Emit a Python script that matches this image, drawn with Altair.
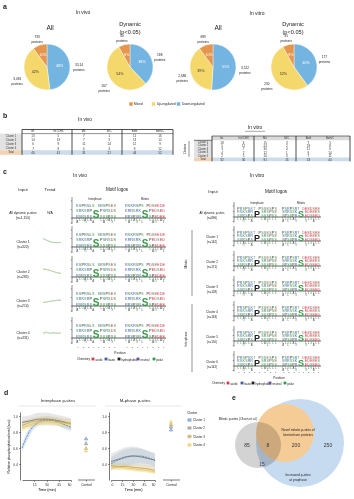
import altair as alt
import pandas as pd

W, H = 354, 499
FONT = "Liberation Sans"
ONE = pd.DataFrame({"k": [0]})
L = []

# ---------------- data ----------------
PIE_CATS = ["Down-regulated", "Up-regulated", "Mixed"]
PIE_COLORS = ["#74b4e0", "#f5d86c", "#e5964c"]
PIE_VIVO_ALL = [3514, 3081, 733]
PIE_VIVO_DYN = [188, 267, 40]
PIE_VITRO_ALL = [3512, 2686, 689]
PIE_VITRO_DYN = [177, 230, 35]

TB_COLS = ["Int.", "Int./CHX", "Mit.", "M/C", "Both", "Both/C"]
TB_VIVO_ROWS = ["Cluster 1", "Cluster 2", "Cluster 3", "Cluster 4", "Total"]
TB_VIVO_VALS = [[13, 5, 7, 1, 11, 16], [14, 19, 7, 3, 13, 15], [6, 9, 11, 14, 12, 9],
                [7, 8, 6, 3, 8, 12], [40, 41, 31, 21, 44, 52]]
TB_VITRO_ROWS = ["Cluster 1", "Cluster 2", "Cluster 3", "Cluster 4", "Cluster 5", "Total"]
TB_VITRO_VALS = [[18, 4, 15, 3, 7, 5], [5, 12, 24, 2, 19, 8], [3, 7, 30, 4, 11, 6],
                 [4, 2, 12, 1, 9, 14], [2, 5, 10, 3, 7, 11], [32, 30, 91, 13, 53, 44]]

LV_LABELS = ["All dynamic p-sites\n(n=1,150)", "Cluster 1\n(n=320)", "Cluster 2\n(n=285)",
             "Cluster 3\n(n=214)", "Cluster 4\n(n=331)"]
RV_LABELS = ["All dynamic p-sites\n(n=896)", "Cluster 1\n(n=142)", "Cluster 2\n(n=171)",
             "Cluster 3\n(n=128)", "Cluster 4\n(n=163)", "Cluster 5\n(n=150)", "Cluster 6\n(n=142)"]

TREND_T = [0, 1, 2, 3, 4, 5]
TREND = [
    ([0.95, 0.75, 0.55, 0.45, 0.40, 0.42], [0.90, 0.70, 0.52, 0.44, 0.42, 0.45]),
    ([0.90, 0.85, 0.70, 0.52, 0.38, 0.30], [0.85, 0.80, 0.68, 0.55, 0.42, 0.35]),
    ([0.30, 0.36, 0.45, 0.55, 0.60, 0.66], [0.35, 0.40, 0.47, 0.52, 0.58, 0.60]),
    ([0.50, 0.62, 0.42, 0.58, 0.45, 0.52], [0.45, 0.55, 0.48, 0.50, 0.50, 0.47]),
]

AA_CLASSES = ["acidic", "basic", "hydrophobic", "neutral", "polar"]
AA_MEMBERS = ["DE", "KRH", "AVLIPWFM", "QN", "GSTYC"]
AA_CLASS_COLORS = ["#d23b4b", "#3e5ca6", "#1f1f1f", "#6a4a9a", "#3c994b"]

# logo letters: rows above the baseline (nearest first) and rows below
VIVO_INT = (["RSRSRS...SSSPSS", "SRKSRP...PSRSDS", "KSPRSLS.SRSPSES"],
            ["LLGALA...LLGALL", "A..G..A...A..G."])
VIVO_MIT = (["RRSPSR...SPEDEE", "KRRSRK...PEDSED", "RSKRSPS.PDSEEDE"],
            ["LGLALL...LGLLAG", ".A..G.L...AG..L"])
VITRO_INT = (["SSRSPS...SSSPSS", "RSKSRR...SRSPSE", "PRSPSKT.PSSESPS"],
             ["LLALLG...LAGLLL", "..G..A.....L..."])
VITRO_MIT = (["SPSSPR...EDSEED", "SRRSSK...EDEEES", "PSRPSRT.DEEDSEE"],
             ["LLGLAL...LLGLLL", "A.L..G...G..A.."])
VIVO_BIG = [("S", 0, 10)]
VITRO_BIG_INT = [("P", 0, 9)]
VITRO_BIG_MIT = [("S", 0, 9)]
LOGO_TICKS = [-7, -5, -3, -1, 1, 3, 5, 7]

D_TIMES = [0, 10, 20, 30, 40, 50, 60]
D_CLUSTERS = ["Cluster 1", "Cluster 2", "Cluster 3", "Cluster 4"]
D_LINE_COLORS = ["#4a78b5", "#6b6b6b", "#b8995a", "#e3c64e"]
D_BAND_COLORS = ["#a9c6e8", "#c9c9c9", "#ddc99a", "#f3e29e"]
INT_MEAN = [[0.60, 0.82, 0.92, 0.95, 0.94, 0.90, 0.86],
            [0.92, 0.94, 0.96, 0.96, 0.95, 0.93, 0.90],
            [0.88, 0.92, 0.94, 0.95, 0.94, 0.92, 0.91],
            [0.85, 0.89, 0.92, 0.93, 0.92, 0.91, 0.90]]
INT_HALF = [[0.05, 0.05, 0.04, 0.04, 0.04, 0.05, 0.05],
            [0.07, 0.07, 0.08, 0.08, 0.07, 0.07, 0.07],
            [0.05, 0.05, 0.05, 0.05, 0.05, 0.05, 0.05],
            [0.04, 0.04, 0.04, 0.04, 0.04, 0.04, 0.04]]
MPH_MEAN = [[0.40, 0.45, 0.48, 0.50, 0.50, 0.48, 0.44],
            [0.43, 0.46, 0.49, 0.50, 0.49, 0.47, 0.45],
            [0.38, 0.37, 0.37, 0.36, 0.35, 0.34, 0.32],
            [0.36, 0.36, 0.35, 0.34, 0.33, 0.32, 0.30]]
MPH_HALF = [[0.08, 0.09, 0.10, 0.10, 0.09, 0.08, 0.08],
            [0.10, 0.11, 0.12, 0.12, 0.11, 0.10, 0.09],
            [0.04, 0.04, 0.04, 0.04, 0.04, 0.04, 0.04],
            [0.03, 0.03, 0.03, 0.03, 0.03, 0.03, 0.03]]
INT_CTRL = [0.72, 0.66, 0.60, 0.57]
MPH_CTRL = [0.83, 0.87, 0.90, 0.93]

VENN_COUNTS = ["85", "8", "200", "250", "15"]


# ---------------- helpers ----------------
def text(s, x, y, size=4.0, color="#222222", align="center", baseline="middle",
         weight="normal", angle=None, style="normal"):
    kw = dict(fontSize=size, color=color, align=align, baseline=baseline,
              fontWeight=weight, font=FONT, lineBreak="\n", fontStyle=style)
    if angle is not None:
        kw["angle"] = angle
    L.append(alt.Chart(ONE).mark_text(**kw).encode(
        x=alt.value(x), y=alt.value(y), text=alt.value(s)))


def rule(x1, y1, x2, y2, color="#222222", w=0.6):
    L.append(alt.Chart(ONE).mark_rule(color=color, strokeWidth=w).encode(
        x=alt.value(x1), y=alt.value(y1), x2=alt.value(x2), y2=alt.value(y2)))


def rect(x1, y1, x2, y2, fill):
    L.append(alt.Chart(ONE).mark_rect(color=fill).encode(
        x=alt.value(x1), y=alt.value(y1), x2=alt.value(x2), y2=alt.value(y2)))


def square(x, y, color, size=9):
    L.append(alt.Chart(ONE).mark_square(color=color, size=size, opacity=1).encode(
        x=alt.value(x), y=alt.value(y)))


def circle(cx, cy, r, color, blend=None):
    kw = dict(size=(2 * r) ** 2, color=color, opacity=1)
    if blend:
        kw["blend"] = blend
    L.append(alt.Chart(ONE).mark_circle(**kw).encode(x=alt.value(cx), y=alt.value(cy)))


def pie(counts, cx, cy, r=23):
    df = pd.DataFrame({"cat": PIE_CATS, "n": counts, "o": [0, 1, 2]})
    base = alt.Chart(df).transform_joinaggregate(total="sum(n)").transform_calculate(
        pct="format(datum.n / datum.total, '.0%')",
        lab="format(datum.n, ',') + '\\nproteins'")
    enc = dict(theta=alt.Theta("n:Q", stack=True), order=alt.Order("o:Q"),
               x=alt.value(cx), y=alt.value(cy))
    L.append(base.mark_arc(outerRadius=r, stroke="white", strokeWidth=0.4).encode(
        color=alt.Color("cat:N", scale=alt.Scale(domain=PIE_CATS, range=PIE_COLORS), legend=None),
        **enc))
    L.append(base.mark_text(radius=r * 0.55, fontSize=3.6, font=FONT).encode(
        text="pct:N",
        color=alt.condition("datum.o == 1", alt.value("#333333"), alt.value("#ffffff")), **enc))
    L.append(base.mark_text(radius=r + 9, fontSize=3.2, font=FONT, lineBreak="\n",
                            color="#222222").encode(text="lab:N", **enc))


AA_DOMAIN = [a for m in AA_MEMBERS for a in m]
AA_RANGE = [c for m, c in zip(AA_MEMBERS, AA_CLASS_COLORS) for _ in m]


def aa_color():
    return alt.Color("aa:N", scale=alt.Scale(domain=AA_DOMAIN, range=AA_RANGE), legend=None)


def logo(tpl, big, x0, x1, base, ha, hb, fa, fb, ticks_y=None):
    above, below = tpl
    xs = alt.X("pos:Q", scale=alt.Scale(domain=[-7.5, 7.5], range=[x0, x1], nice=False, zero=False),
               axis=None)
    ra = [(i - 7, r, ch) for r, s in enumerate(above) for i, ch in enumerate(s) if ch != "."]
    rb = [(i - 7, r, ch) for r, s in enumerate(below) for i, ch in enumerate(s) if ch != "."]
    da = pd.DataFrame(ra, columns=["pos", "row", "aa"])
    db = pd.DataFrame(rb, columns=["pos", "row", "aa"])
    L.append(alt.Chart(da).mark_text(fontSize=fa, font=FONT, baseline="alphabetic").encode(
        x=xs, y=alt.Y("row:Q", scale=alt.Scale(domain=[0, 3], range=[base, base - ha],
                                               nice=False, zero=False), axis=None),
        text="aa:N", color=aa_color()))
    L.append(alt.Chart(db).mark_text(fontSize=fb, font=FONT, baseline="top", opacity=0.8).encode(
        x=xs, y=alt.Y("row:Q", scale=alt.Scale(domain=[0, 2], range=[base + 0.7, base + 0.7 + hb],
                                               nice=False, zero=False), axis=None),
        text="aa:N", color=aa_color()))
    for aa, pos, fs in big:
        L.append(alt.Chart(pd.DataFrame({"pos": [pos], "aa": [aa]})).mark_text(
            fontSize=fs, font=FONT, fontWeight="bold", baseline="alphabetic").encode(
            x=xs, y=alt.value(base), text="aa:N", color=aa_color()))
    if ticks_y is not None:
        L.append(alt.Chart(pd.DataFrame({"pos": LOGO_TICKS})).mark_text(
            fontSize=2.3, font=FONT, color="#444444").encode(
            x=xs, y=alt.value(ticks_y), text="pos:Q"))


def logo_axes(xa, xend, base, ha, hb):
    rule(xa, base - ha - 4, xa, base + hb + 1, w=0.5)
    rule(xa, base, xend, base, w=0.7)
    for yy in (base - ha, base - ha / 2, base, base + hb):
        rule(xa - 1.3, yy, xa, yy, w=0.4)


def table(cols, rows, vals, cx0, cx1, ry0, ry1, hy, lab_x, fs=3.0):
    recs = [(r, c, v) for r, rv in zip(rows, vals) for c, v in zip(cols, rv)]
    df = pd.DataFrame(recs, columns=["r", "c", "v"])
    xs = alt.X("c:N", scale=alt.Scale(type="point", domain=cols, range=[cx0, cx1], padding=0),
               axis=None)
    ys = alt.Y("r:N", scale=alt.Scale(type="point", domain=rows, range=[ry0, ry1], padding=0),
               axis=None)
    L.append(alt.Chart(df).mark_text(fontSize=fs, font=FONT, color="#333333").encode(
        x=xs, y=ys, text="v:Q"))
    L.append(alt.Chart(pd.DataFrame({"c": cols})).mark_text(fontSize=fs - 0.3, font=FONT,
                                                            color="#333333").encode(
        x=xs, y=alt.value(hy), text="c:N"))
    L.append(alt.Chart(pd.DataFrame({"r": rows})).mark_text(fontSize=fs - 0.4, font=FONT,
                                                            color="#333333").encode(
        x=alt.value(lab_x), y=ys, text="r:N"))


def dpanel(means, halves, ctrl, xr, axis_x, ctrl_x, ytitle, xticks):
    recs = []
    for c, mv, hv in zip(D_CLUSTERS, means, halves):
        for t, m, h in zip(D_TIMES, mv, hv):
            recs.append((c, t, m, h))
    df = pd.DataFrame(recs, columns=["cl", "t", "m", "h"])
    ysc = alt.Scale(domain=[0.2, 1.05], range=[480, 412], nice=False, zero=False)
    xsc = alt.Scale(domain=[0, 60], range=xr, nice=False, zero=False)
    common = dict(labelFontSize=3.4, labelFont=FONT, tickSize=1.5, tickWidth=0.5,
                  domainWidth=0.6, domainColor="#222222", tickColor="#222222", labelPadding=1,
                  grid=False, labelColor="#333333")
    xax = alt.Axis(orient="bottom", offset=480 - H, values=xticks, title="Time (min)",
                   titleFontSize=3.8, titleFont=FONT, titlePadding=2, titleFontWeight="normal",
                   **common)
    if ytitle:
        yax = alt.Axis(orient="left", offset=-axis_x, values=[0.4, 0.6, 0.8, 1.0], format=".1f",
                       title=ytitle, titleFontSize=3.4, titleFont=FONT, titlePadding=2,
                       titleFontWeight="normal", **common)
    else:
        yax = alt.Axis(orient="left", offset=-axis_x, values=[0.4, 0.6, 0.8, 1.0], format=".1f",
                       title=None, **common)
    base = alt.Chart(df).transform_calculate(lo="datum.m - datum.h", hi="datum.m + datum.h")
    band = alt.Scale(domain=D_CLUSTERS, range=D_BAND_COLORS)
    line = alt.Scale(domain=D_CLUSTERS, range=D_LINE_COLORS)
    L.append(base.mark_area(opacity=0.45, interpolate="monotone").encode(
        x=alt.X("t:Q", scale=xsc, axis=xax), y=alt.Y("lo:Q", scale=ysc, axis=yax), y2="hi:Q",
        color=alt.Color("cl:N", scale=band, legend=None)))
    L.append(base.mark_line(strokeWidth=0.8, interpolate="monotone").encode(
        x=alt.X("t:Q", scale=xsc, axis=None), y=alt.Y("m:Q", scale=ysc, axis=None),
        color=alt.Color("cl:N", scale=line, legend=None),
        strokeDash=alt.StrokeDash("cl:N", scale=alt.Scale(domain=D_CLUSTERS,
                                                          range=[[2, 1], [1, 0], [1, 0], [1, 0]]),
                                  legend=None)))
    cdf = pd.DataFrame({"cl": D_CLUSTERS, "m": ctrl})
    L.append(alt.Chart(cdf).mark_point(shape="triangle-up", size=12, filled=True, opacity=0.9,
                                       strokeWidth=0.5).encode(
        x=alt.value(ctrl_x), y=alt.Y("m:Q", scale=ysc, axis=None),
        fill=alt.Fill("cl:N", scale=band, legend=None),
        stroke=alt.Stroke("cl:N", scale=line, legend=None)))


# ---------------- panel a ----------------
text("a", 3, 3, 7, align="left", baseline="top", weight="bold")
text("In vivo", 83, 12, 5)
text("In vitro", 257, 13, 5)
text("All", 50, 28, 6.5)
text("Dynamic\n(p<0.05)", 130, 24, 5.6)
text("All", 218, 28, 6.5)
text("Dynamic\n(p<0.05)", 293, 24, 5.6)
pie(PIE_VIVO_ALL, 47, 67)
pie(PIE_VIVO_DYN, 130, 67)
pie(PIE_VITRO_ALL, 213, 67)
pie(PIE_VITRO_DYN, 294, 67)
for (cx, lx), cat, col in zip([(131, 134), (153.5, 157), (178.5, 182)],
                              [PIE_CATS[2], PIE_CATS[1], PIE_CATS[0]],
                              [PIE_COLORS[2], PIE_COLORS[1], PIE_COLORS[0]]):
    square(cx, 104, col, 12)
    text(cat, lx, 104.3, 3.2, align="left")

# ---------------- panel b ----------------
text("b", 3, 112, 7, align="left", baseline="top", weight="bold")
text("In vivo", 85, 120, 4.8)
text("In vitro", 255, 128, 4.8)
rule(245, 131.3, 265, 131.3, w=0.4)
# left table
rect(0, 133.5, 22, 150.3, "#e3e3e3")
rect(0, 150.3, 22, 154.8, "#f3d2b4")
rect(22, 150.3, 173, 154.8, "#cddbeb")
rule(22, 129.5, 173, 129.5, w=0.8)
rule(22, 133.6, 173, 133.6, w=0.5)
for xx in (22, 72, 122, 173):
    rule(xx, 129.5, xx, 154.8, w=0.8)
table(TB_COLS, TB_VIVO_ROWS, TB_VIVO_VALS, 33, 160, 135.9, 152.5, 131.6, 11)
# right table
rect(212, 136, 350, 140.3, "#dadada")
rect(194, 140.3, 212, 157.5, "#e3e3e3")
rect(194, 157.5, 212, 161.3, "#f3d2b4")
rect(212, 157.5, 350, 161.3, "#cddbeb")
rule(212, 136, 350, 136, w=0.6)
rule(194, 140.3, 212, 140.3, w=0.6)
for xx in (212, 254, 296, 350):
    rule(xx, 136, xx, 161.3, w=0.8)
rule(189, 141, 189, 157, w=0.5)
text("Clusters", 185, 149, 2.8, angle=270)
table(TB_COLS, TB_VITRO_ROWS, TB_VITRO_VALS, 222, 330, 142.3, 159.4, 138.2, 203)

# ---------------- panel c ----------------
text("c", 3, 168, 7, align="left", baseline="top", weight="bold")
text("In vivo", 80, 176, 4.8)
text("Input", 23, 190, 4.2)
text("Trend", 50, 190, 4.2)
text("Motif logos", 117, 190, 4.6)
text("Interphase", 95, 199, 2.8)
text("Mitotic", 145, 199, 2.8)

LV_BASE = [218, 247, 277, 306, 338]
for i, (lab, b) in enumerate(zip(LV_LABELS, LV_BASE)):
    text(lab, 23, b - 5, 3.3)
    logo_axes(72, 166, b, 17, 5)
    last = i == len(LV_BASE) - 1
    logo(VIVO_INT, VIVO_BIG, 76, 116, b, 17, 5, 3.8, 3.0, ticks_y=347 if last else None)
    logo(VIVO_MIT, VIVO_BIG, 125, 165, b, 17, 5, 3.8, 3.0, ticks_y=347 if last else None)
text("N/A", 50, LV_BASE[0] - 5, 3.4)
for (t1, t2), b in zip(TREND, LV_BASE[1:]):
    yc = b - 5
    for vals, col in ((t1, "#bfca7e"), (t2, "#94c7a6")):
        L.append(alt.Chart(pd.DataFrame({"t": TREND_T, "v": vals})).mark_line(
            strokeWidth=0.6, color=col).encode(
            x=alt.X("t:Q", scale=alt.Scale(domain=[0, 5], range=[43, 61], nice=False, zero=False),
                    axis=None),
            y=alt.Y("v:Q", scale=alt.Scale(domain=[0, 1], range=[yc + 4, yc - 4], nice=False,
                                           zero=False), axis=None)))
text("Position", 120, 353, 3.2)
text("Chemistry", 77, 359, 2.9, align="left")
for sx, cls, col in zip([93, 106, 119, 138, 154], AA_CLASSES, AA_CLASS_COLORS):
    square(sx, 359, col, 8)
    text(cls, sx + 2.5, 359.2, 2.9, align="left")

# right side
text("In vitro", 257, 176, 4.8)
text("Input", 213, 192, 4.2)
text("Motif logos", 276, 192, 4.6)
text("Interphase", 257, 203, 2.8)
text("Mitotic", 301, 203, 2.8)
RV_BASE = [217, 241, 266, 291, 316, 341, 366]
for i, (lab, b) in enumerate(zip(RV_LABELS, RV_BASE)):
    text(lab, 212, b - 4, 3.0)
    logo_axes(234, 321, b, 11, 4.5)
    last = i == len(RV_BASE) - 1
    logo(VITRO_INT, VITRO_BIG_INT, 237, 277, b, 11, 4.5, 3.6, 2.8, ticks_y=372 if last else None)
    logo(VITRO_MIT, VITRO_BIG_MIT, 282, 320, b, 11, 4.5, 3.6, 2.8, ticks_y=372 if last else None)
text("Mitotic", 186, 264, 3.2, angle=270)
rule(192, 230, 192, 296, w=0.5)
text("Interphase", 186, 339, 3.2, angle=270)
rule(192, 304, 192, 372, w=0.5)
text("Position", 279, 378, 3.2)
text("Chemistry", 212, 383, 2.9, align="left")
for sx, cls, col in zip([228, 242, 253, 270, 285], AA_CLASSES, AA_CLASS_COLORS):
    square(sx, 383, col, 8)
    text(cls, sx + 2.5, 383.2, 2.9, align="left")

# ---------------- panel d ----------------
text("d", 4, 389, 7, align="left", baseline="top", weight="bold")
text("Interphase p-sites", 58, 401, 4.3)
text("M-phase p-sites", 135, 401, 4.3)
rule(18, 406, 96, 406, color="#cccccc", w=0.5)
rule(105, 406, 182, 406, color="#cccccc", w=0.5)
dpanel(INT_MEAN, INT_HALF, INT_CTRL, [22, 71], 20, 86, "Relative phosphorylation level (a.u.)",
       [15, 30, 45, 60])
dpanel(MPH_MEAN, MPH_HALF, MPH_CTRL, [111, 155], 109, 171, None, [0, 15, 30, 45, 60])
for x1, x2, xc in ((78, 95, 86.5), (163, 180, 171.5)):
    rule(x1, 480, x2, 480, w=0.6)
    rule(xc, 480, xc, 481.5, w=0.5)
    text("Control", xc, 483, 3.3, baseline="top")
text("Cluster", 187, 413, 3.3, align="left")
for yy, c, bc, lc in zip([420, 428, 436.5, 445], D_CLUSTERS, D_BAND_COLORS, D_LINE_COLORS):
    square(189.5, yy, bc, 14)
    rule(187.5, yy, 191.5, yy, color=lc, w=0.6)
    text(c, 193, yy + 0.2, 3.0, align="left")

# ---------------- panel e ----------------
text("e", 232, 394, 7, align="left", baseline="top", weight="bold")
circle(300, 443, 44, "#c7dbf0")
circle(285, 433, 29, "#f6cc96")
circle(258, 445, 23, "#d3d3d3", blend="multiply")
for s, x, y, col in zip(VENN_COUNTS, [247, 268, 296, 328, 262], [445, 445, 445, 445, 464],
                        ["#333333", "#333333", "#333333", "#333333", "#2a3f5f"]):
    text(s, x, y, 5.0, color=col)
text("Mitotic p-sites (Olsen et al.)", 238, 419, 3.2)
text("Novel mitotic p-sites of\nkinetochore proteins", 298, 430, 3.3)
text("Increased p-sites\nat prophase", 298, 475, 3.3)

chart = alt.layer(*L).resolve_scale(
    x="independent", y="independent", color="independent", theta="independent",
    strokeDash="independent", fill="independent", stroke="independent"
).properties(
    width=W, height=H, padding=0, autosize=alt.AutoSizeParams(type="none")
).configure_view(stroke=None)

chart.save("out.html", embed_options={"renderer": "svg", "actions": False})
